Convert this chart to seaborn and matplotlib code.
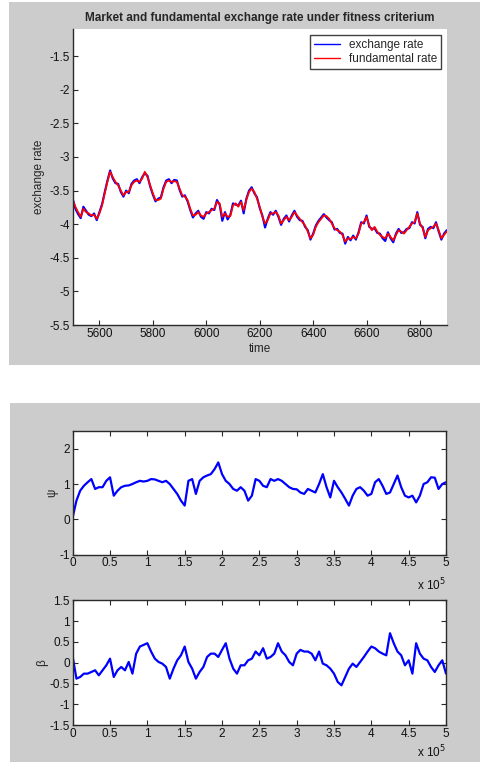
import numpy as np
import pandas as pd
import matplotlib
matplotlib.use("Agg")
import matplotlib.pyplot as plt
from matplotlib.patches import Rectangle
import seaborn as sns

sns.set_style("white")
plt.rcParams['font.family'] = ['Liberation Sans', 'DejaVu Sans']

# ---------------- data ----------------
time = np.arange(5500, 6901, 10)
fundamental_rate = [
    -3.64, -3.74, -3.82, -3.89, -3.77, -3.82, -3.84, -3.87, -3.86, -3.92,
    -3.84, -3.72, -3.54, -3.37, -3.22, -3.30, -3.37, -3.42, -3.50, -3.57,
    -3.52, -3.52, -3.42, -3.37, -3.35, -3.37, -3.32, -3.22, -3.30, -3.42,
    -3.54, -3.64, -3.64, -3.62, -3.47, -3.37, -3.35, -3.37, -3.36, -3.37,
    -3.47, -3.57, -3.59, -3.64, -3.77, -3.87, -3.86, -3.82, -3.87, -3.89,
    -3.84, -3.82, -3.79, -3.77, -3.67, -3.69, -3.89, -3.84, -3.89, -3.88,
    -3.72, -3.69, -3.74, -3.67, -3.79, -3.64, -3.52, -3.47, -3.52, -3.62,
    -3.74, -3.89, -3.99, -3.94, -3.84, -3.84, -3.82, -3.87, -3.99, -3.94,
    -3.89, -3.94, -3.89, -3.82, -3.87, -3.92, -3.97, -4.02, -4.11, -4.21,
    -4.16, -4.04, -3.97, -3.92, -3.87, -3.88, -3.92, -3.99, -4.06, -4.09,
    -4.11, -4.16, -4.26, -4.21, -4.22, -4.19, -4.21, -4.14, -3.99, -3.97,
    -3.89, -4.02, -4.09, -4.04, -4.11, -4.16, -4.19, -4.21, -4.14, -4.19,
    -4.24, -4.16, -4.09, -4.11, -4.14, -4.09, -4.04, -3.99, -3.97, -3.84,
    -3.99, -4.06, -4.19, -4.09, -4.06, -4.04, -3.99, -4.09, -4.21, -4.16,
    -4.11]
exchange_rate = [
    -3.62, -3.77, -3.85, -3.91, -3.74, -3.80, -3.86, -3.88, -3.84, -3.94,
    -3.82, -3.70, -3.52, -3.35, -3.20, -3.32, -3.39, -3.40, -3.52, -3.59,
    -3.50, -3.54, -3.40, -3.35, -3.33, -3.39, -3.30, -3.24, -3.28, -3.44,
    -3.56, -3.66, -3.62, -3.60, -3.45, -3.35, -3.33, -3.39, -3.34, -3.35,
    -3.49, -3.59, -3.57, -3.66, -3.79, -3.90, -3.84, -3.80, -3.89, -3.92,
    -3.82, -3.84, -3.77, -3.79, -3.64, -3.71, -3.95, -3.82, -3.93, -3.86,
    -3.69, -3.71, -3.72, -3.65, -3.84, -3.62, -3.50, -3.45, -3.54, -3.60,
    -3.76, -3.87, -4.05, -3.92, -3.82, -3.86, -3.80, -3.89, -4.01, -3.92,
    -3.87, -3.96, -3.87, -3.80, -3.89, -3.94, -3.95, -4.04, -4.09, -4.23,
    -4.14, -4.02, -3.95, -3.90, -3.85, -3.90, -3.94, -3.97, -4.08, -4.07,
    -4.13, -4.14, -4.29, -4.19, -4.24, -4.17, -4.23, -4.12, -3.97, -3.99,
    -3.87, -4.04, -4.07, -4.06, -4.13, -4.14, -4.21, -4.25, -4.12, -4.21,
    -4.27, -4.14, -4.07, -4.13, -4.12, -4.07, -4.06, -3.97, -3.99, -3.82,
    -4.01, -4.04, -4.21, -4.07, -4.04, -4.06, -3.97, -4.11, -4.23, -4.14,
    -4.09]

steps = np.arange(0, 500001, 5000)
psi = [
    0.06, 0.53, 0.81, 0.95, 1.05, 1.14, 0.86, 0.91, 0.91, 1.09,
    1.19, 0.67, 0.81, 0.91, 0.95, 0.96, 1.00, 1.05, 1.09, 1.07,
    1.09, 1.14, 1.13, 1.09, 1.05, 1.09, 1.00, 0.86, 0.72, 0.53,
    0.39, 1.09, 1.14, 0.72, 1.09, 1.19, 1.24, 1.28, 1.42, 1.61,
    1.28, 1.09, 1.00, 0.86, 0.81, 0.91, 0.81, 0.53, 0.67, 1.14,
    1.09, 0.95, 0.91, 1.14, 1.09, 1.14, 1.09, 1.00, 0.91, 0.86,
    0.85, 0.76, 0.72, 0.86, 0.81, 0.76, 1.00, 1.28, 0.91, 0.62,
    1.09, 0.91, 0.76, 0.58, 0.39, 0.67, 0.86, 0.91, 0.81, 0.67,
    0.72, 1.05, 1.14, 0.95, 0.72, 0.76, 1.00, 1.24, 0.91, 0.67,
    0.62, 0.67, 0.48, 0.67, 1.00, 1.05, 1.19, 1.18, 0.86, 1.00,
    1.05]
beta = [
    0.14, -0.38, -0.34, -0.26, -0.26, -0.22, -0.18, -0.30, -0.18, -0.06,
    0.10, -0.34, -0.18, -0.10, -0.18, 0.02, -0.26, 0.22, 0.39, 0.43,
    0.47, 0.27, 0.10, 0.02, -0.02, -0.10, -0.38, -0.14, 0.06, 0.18,
    0.39, 0.02, -0.14, -0.38, -0.22, -0.10, 0.14, 0.22, 0.22, 0.14,
    0.31, 0.47, 0.10, -0.14, -0.26, -0.06, -0.06, 0.06, 0.10, 0.27,
    0.18, 0.35, 0.10, 0.14, 0.22, 0.47, 0.27, 0.18, 0.02, -0.06,
    0.22, 0.31, 0.27, 0.27, 0.22, 0.06, 0.27, -0.02, -0.06, -0.14,
    -0.26, -0.46, -0.54, -0.34, -0.14, -0.02, -0.10, 0.02, 0.14, 0.27,
    0.39, 0.35, 0.27, 0.22, 0.18, 0.71, 0.47, 0.27, 0.18, -0.06,
    0.06, -0.26, 0.47, 0.22, 0.10, 0.06, -0.10, -0.22, -0.06, 0.06,
    -0.26]

top_yticks = [-5.5, -5, -4.5, -4, -3.5, -3, -2.5, -2, -1.5]
top_xticks = [5600, 5800, 6000, 6200, 6400, 6600, 6800]
bottom_xticks = [0, 50000, 100000, 150000, 200000, 250000, 300000, 350000, 400000, 450000, 500000]
bottom_xticklabels = ['0', '0.5', '1', '1.5', '2', '2.5', '3', '3.5', '4', '4.5', '5']

# ---------------- figure ----------------
W, H = 480, 762
fig = plt.figure(figsize=(W / 100, H / 100), dpi=100)
fig.patch.set_facecolor('white')

def fx(px):
    return px / W

def fy(py):
    return 1 - py / H

gray = '#cccccc'
fig.patches.append(Rectangle((fx(9), fy(365)), fx(480 - 9), (365 - 2) / H,
                             transform=fig.transFigure, facecolor=gray, edgecolor='none', zorder=-5))
fig.patches.append(Rectangle((fx(10), fy(762)), fx(480 - 10), (762 - 403) / H,
                             transform=fig.transFigure, facecolor=gray, edgecolor='none', zorder=-5))

tick_fs = 8.5
spine_col = '#2a2a2a'

def style(ax, box):
    for s in ['left', 'bottom', 'top', 'right']:
        ax.spines[s].set_color(spine_col)
        ax.spines[s].set_linewidth(1.0)
        ax.spines[s].set_visible(box or s in ('left', 'bottom'))
    ax.tick_params(direction='in', length=3.5, width=0.8, colors=spine_col,
                   labelsize=tick_fs, labelcolor='#111111', pad=2,
                   top=box, right=box, bottom=True, left=True)
    ax.set_facecolor('white')

# --- top axes
ax1 = fig.add_axes([fx(72.7), fy(325), (446.7 - 72.7) / W, (325 - 29.3) / H])
df1 = pd.DataFrame({'time': time, 'exchange rate': exchange_rate, 'fundamental rate': fundamental_rate})
sns.lineplot(data=df1, x='time', y='exchange rate', ax=ax1, color='#0000ff', lw=1.5,
             estimator=None, label='exchange rate')
sns.lineplot(data=df1, x='time', y='fundamental rate', ax=ax1, color='#ff0000', lw=1.3,
             estimator=None, label='fundamental rate')
ax1.set_xlim(5500, 6900)
ax1.set_ylim(-5.5, -1.1)
ax1.set_yticks(top_yticks)
ax1.set_yticklabels([f'{v:g}' for v in top_yticks])
ax1.set_xticks(top_xticks)
style(ax1, box=False)
ax1.set_title('Market and fundamental exchange rate under fitness criterium',
              fontsize=8.5, fontweight='bold', pad=6)
ax1.set_xlabel('time', fontsize=8.5, labelpad=2)
ax1.set_ylabel('exchange rate', fontsize=8.5, labelpad=3)
leg = ax1.legend(loc='upper right', fontsize=8.5, frameon=True, fancybox=False,
                 edgecolor='#111111', borderpad=0.3, handlelength=2.2, labelspacing=0.2,
                 borderaxespad=0.5)
leg.get_frame().set_linewidth(1.0)
for h in leg.get_lines():
    h.set_linewidth(1.0)

# --- psi axes
ax2 = fig.add_axes([fx(72.7), fy(554.7), (446 - 72.7) / W, (554.7 - 431) / H])
df2 = pd.DataFrame({'step': steps, 'psi': psi, 'beta': beta})
sns.lineplot(data=df2, x='step', y='psi', ax=ax2, color='#0000ff', lw=1.6, estimator=None)
ax2.set_xlim(0, 500000)
ax2.set_ylim(-1, 2.5)
ax2.set_yticks([-1, 0, 1, 2])
ax2.set_yticklabels(['-1', '0', '1', '2'])
ax2.set_xticks(bottom_xticks)
ax2.set_xticklabels(bottom_xticklabels)
style(ax2, box=True)
ax2.set_xlabel('')
ax2.set_ylabel('ψ', fontsize=8.5, labelpad=1)
ax2.text(1.0, -0.245, r'x 10$^5$', transform=ax2.transAxes, ha='right', va='center',
         fontsize=8.5, color='#111111')

# --- beta axes
ax3 = fig.add_axes([fx(72.7), fy(725.3), (446 - 72.7) / W, (725.3 - 600.3) / H])
sns.lineplot(data=df2, x='step', y='beta', ax=ax3, color='#0000ff', lw=1.6, estimator=None)
ax3.set_xlim(0, 500000)
ax3.set_ylim(-1.5, 1.5)
bt = [-1.5, -1, -0.5, 0, 0.5, 1, 1.5]
ax3.set_yticks(bt)
ax3.set_yticklabels([f'{v:g}' for v in bt])
ax3.set_xticks(bottom_xticks)
ax3.set_xticklabels(bottom_xticklabels)
style(ax3, box=True)
ax3.set_xlabel('')
ax3.set_ylabel('β', fontsize=8.5, labelpad=1)
ax3.text(1.0, -0.21, r'x 10$^5$', transform=ax3.transAxes, ha='right', va='center',
         fontsize=8.5, color='#111111')

fig.savefig('out.png', dpi=100)
